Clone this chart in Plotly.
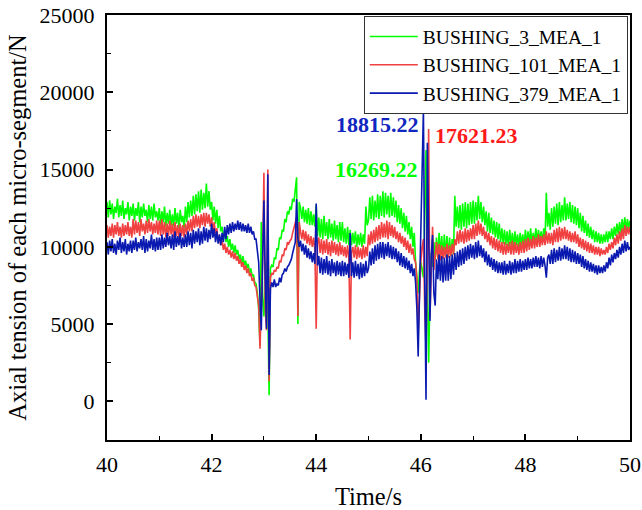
import numpy as np
import plotly.graph_objects as go

# Sampling times (s), 0.025 s step from 40 s to 50 s
TIME = np.round(np.linspace(40.0, 50.0, 401), 3)

# Axial tension (N) of three micro-segments, one row per 0.5 s
BUSHING_3 = [
    12900, 11900, 13000, 12100, 12800, 11800, 12600, 12200, 13100, 11900, 12700, 12000, 13000, 11800, 12500, 12100, 12900, 11700, 12600, 12000,
    12800, 11700, 12500, 12000, 12900, 11600, 12600, 11900, 12800, 12000, 12400, 11600, 12700, 11800, 12600, 11700, 12800, 11900, 12300, 11700,
    12500, 11400, 12300, 11600, 12600, 11300, 12200, 11500, 12400, 11400, 12100, 11300, 12500, 11500, 12200, 11200, 12400, 11600, 12000, 11200,
    12600, 11600, 12900, 11900, 13000, 12000, 13300, 12100, 13400, 12300, 13600, 12200, 13700, 12400, 13500, 12500, 14100, 12600, 13600, 12400,
    12900, 11700, 12600, 11500, 12400, 11200, 12000, 11000, 11300, 10500, 11000, 10300, 10700, 10000, 10500, 9800, 10200, 9600, 10100, 9500,
    9800, 9200, 9500, 8900, 9400, 8800, 9100, 8600, 8900, 8300, 8600, 8100, 8200, 7700, 7600, 7000, 6000, 3600, 11600, 7000,
    5500, 7500, 9000, 6000, 400, 8600, 8800, 8700, 9300, 9200, 9900, 9800, 10600, 10500, 11100, 11000, 11800, 11600, 12300, 12100,
    12600, 12400, 13100, 12900, 13800, 14500, 5000, 12900, 12500, 11800, 12600, 11600, 12400, 11500, 12500, 11400, 12300, 11400, 12100, 11300,
    12700, 10700, 11900, 10600, 11800, 10500, 12000, 10700, 11600, 10500, 11800, 10600, 11500, 10400, 11700, 10500, 11400, 10300, 11600, 10400,
    11600, 10300, 11200, 10200, 11300, 10100, 11100, 10100, 10900, 10200, 11000, 10000, 10800, 10100, 10900, 10000, 10800, 10200, 12600, 11400,
    11700, 13200, 11800, 13300, 11700, 13000, 11900, 13400, 11800, 13300, 12000, 13600, 11900, 13500, 12100, 13300, 11900, 13500, 12000, 13200,
    11900, 13000, 11600, 12700, 11500, 12500, 11200, 12200, 11000, 12000, 10800, 11600, 10500, 11300, 10000, 10900, 9000, 8000, 7000, 8500,
    9000, 8500, 8000, 12000, 16269.22, 8000, 2500, 7000, 9600, 8700, 10300, 9200, 10600, 9300, 10900, 9400, 10700, 9300, 10800, 9400,
    10700, 9300, 10600, 9400, 10500, 9500, 13300, 11300, 12600, 11200, 12700, 11100, 12800, 11300, 12900, 11200, 12800, 11400, 12900, 11500,
    13000, 11500, 12900, 11700, 13300, 11800, 12900, 11600, 12600, 11400, 12300, 11000, 12200, 10900, 11900, 10800, 11700, 10600, 11600, 10500,
    11500, 10300, 11200, 10200, 11100, 10100, 11000, 10000, 11100, 10100, 10900, 10000, 11000, 10100, 10800, 10000, 10900, 10100, 10800, 10000,
    11100, 10100, 11000, 10200, 11200, 10200, 10900, 10300, 11200, 10300, 11100, 10400, 11000, 10300, 11200, 10400, 13500, 11300, 12200, 11100,
    12500, 11300, 12600, 11500, 12800, 11400, 12900, 11600, 12700, 11700, 13200, 11700, 12800, 11800, 12900, 11600, 12700, 11500, 12600, 11400,
    12500, 11200, 12200, 11000, 12000, 10900, 11700, 10700, 11500, 10600, 11300, 10500, 11100, 10300, 11000, 10300, 10900, 10200, 10800, 10200,
    10800, 10300, 11000, 10300, 11000, 10500, 11200, 10500, 11300, 10700, 11500, 10800, 11600, 10900, 11800, 11000, 11900, 11100, 11800, 11200,
    11700,
]

BUSHING_101 = [
    11400, 10600, 11300, 10700, 11500, 10600, 11400, 10800, 11600, 10700, 11300, 10600, 11500, 10700, 11400, 10800, 11600, 10700, 11300, 10600,
    11800, 10800, 11700, 10900, 11600, 10700, 11800, 11000, 11500, 10800, 11700, 10900, 11800, 11000, 11600, 10800, 11500, 10900, 11700, 10800,
    11700, 10700, 11800, 10800, 11600, 10600, 11500, 10700, 11700, 10800, 11500, 10600, 11600, 10700, 11400, 10600, 11500, 10700, 11400, 10600,
    11500, 10800, 11700, 11000, 11800, 11000, 12000, 11200, 12100, 11300, 12000, 11200, 12100, 11400, 12200, 11300, 12200, 11500, 12100, 11300,
    11900, 11000, 11600, 10800, 11200, 10400, 10700, 10100, 10400, 9800, 10200, 9600, 10000, 9500, 9800, 9300, 9700, 9200, 9600, 9100,
    9400, 8900, 9200, 8700, 9000, 8500, 8800, 8300, 8600, 8100, 8300, 7800, 8000, 7500, 7400, 6900, 6200, 3400, 6000, 9000,
    14800, 6000, 4600, 15000, 1300, 8000, 8300, 8200, 8500, 8400, 8700, 8600, 9100, 9000, 9500, 9400, 9900, 9800, 10300, 10200,
    10400, 10500, 10900, 11200, 11500, 11900, 5500, 11600, 11000, 10500, 11100, 10400, 11000, 10200, 10800, 10100, 10700, 10000, 10600, 9800,
    4700, 10300, 10600, 9600, 10500, 9500, 10400, 9600, 10500, 9500, 10300, 9400, 10400, 9600, 10300, 9500, 10200, 9400, 10300, 9500,
    10100, 9400, 10000, 9300, 10100, 9200, 4000, 9600, 10000, 9300, 10100, 9200, 10000, 9300, 9900, 9200, 10100, 9300, 10000, 9400,
    10800, 10100, 11000, 10200, 11100, 10300, 11300, 10400, 11400, 10500, 11600, 10600, 11500, 10600, 11700, 10500, 11600, 10700, 11400, 10600,
    11300, 10500, 11000, 10300, 10900, 10200, 10700, 10000, 10600, 9800, 10400, 9600, 10200, 9500, 9900, 9200, 9000, 8000, 4400, 7000,
    9000, 10000, 10500, 6000, 3500, 9000, 17621.23, 5500, 9000, 11300, 8500, 9400, 10300, 9200, 10200, 9100, 10100, 9200, 10000, 9300,
    10200, 9300, 10100, 9400, 10200, 9500, 10500, 10100, 11000, 10200, 11100, 10300, 11000, 10200, 11200, 10300, 11100, 10400, 11200, 10500,
    11400, 10500, 11500, 10700, 11700, 10800, 11500, 10700, 11300, 10500, 11000, 10300, 10900, 10100, 10700, 9900, 10600, 9800, 10500, 9700,
    10400, 9600, 10300, 9500, 10300, 9500, 10200, 9600, 10300, 9500, 10400, 9500, 10300, 9600, 10200, 9500, 10300, 9600, 10400, 9600,
    10500, 9700, 10600, 9800, 10500, 9900, 10700, 9900, 10600, 10000, 10800, 10000, 10700, 10100, 10800, 10100, 11000, 10200, 10900, 10200,
    10900, 10100, 11100, 10300, 11200, 10300, 11300, 10400, 11200, 10500, 11300, 10500, 11100, 10400, 11000, 10300, 10900, 10300, 11000, 10200,
    10800, 10000, 10600, 9900, 10500, 9800, 10400, 9700, 10300, 9600, 10200, 9600, 10100, 9500, 10000, 9500, 10000, 9400, 9900, 9500,
    9800, 9500, 10000, 9600, 10200, 9800, 10300, 9900, 10600, 10100, 10800, 10200, 11000, 10400, 11200, 10500, 11400, 10700, 11300, 10800,
    11300,
]

BUSHING_379 = [
    10300, 9500, 10400, 9700, 10500, 9600, 10200, 9500, 10400, 9800, 10600, 9600, 10300, 9700, 10500, 9500, 10200, 9700, 10400, 9600,
    10400, 9800, 10600, 9700, 10300, 9900, 10500, 9800, 10700, 9600, 10500, 9700, 10400, 9900, 10800, 9800, 10500, 9700, 10600, 9800,
    10600, 9800, 10800, 9900, 10600, 10000, 10900, 10100, 10700, 9900, 10800, 9800, 11000, 10000, 10700, 10100, 10900, 9900, 10600, 10000,
    10800, 10000, 11000, 10100, 10900, 9900, 11100, 10200, 11000, 10300, 11200, 10100, 11000, 10200, 11300, 10400, 11200, 10300, 11100, 10500,
    11500, 10600, 11200, 10300, 11000, 10200, 10800, 10100, 10900, 10300, 11300, 10500, 11400, 10800, 11500, 10900, 11600, 11000, 11500, 11100,
    11700, 11100, 11600, 11000, 11500, 11000, 11400, 10900, 11500, 10900, 11300, 10800, 11000, 10500, 10500, 9800, 9000, 6600, 4600, 9000,
    13000, 8000, 4700, 14700, 1700, 7300, 7700, 7400, 7900, 7400, 7600, 7500, 8000, 7700, 8200, 8300, 8600, 8400, 8700, 8800,
    9000, 9200, 9600, 9900, 10300, 13100, 10500, 10000, 10400, 9700, 10200, 9500, 10100, 9300, 9900, 9200, 9700, 9000, 9600, 8900,
    12800, 8800, 9400, 8300, 9300, 8200, 9200, 8300, 9400, 8200, 9100, 8100, 9200, 8300, 9000, 8100, 9100, 8200, 9000, 8100,
    9100, 8100, 9000, 8200, 8900, 8000, 10900, 8100, 9000, 8000, 9100, 8100, 8900, 7900, 9000, 8000, 8900, 8100, 9100, 8300,
    8600, 9700, 8800, 9900, 8900, 10100, 9100, 10200, 9200, 10300, 9300, 10300, 9200, 10200, 9400, 10300, 9300, 10100, 9200, 10000,
    9200, 9900, 9000, 9700, 8800, 9600, 8700, 9400, 8600, 9300, 8500, 9100, 8300, 8900, 8100, 8600, 7700, 6000, 2900, 7000,
    11000, 15000, 18815.22, 8000, 100, 16740, 9000, 5200, 9500, 10760, 7000, 6200, 9200, 7900, 9500, 7800, 9400, 7700, 9300, 7800,
    9500, 7800, 9400, 7900, 9500, 8200, 9600, 8500, 9700, 8700, 9800, 8800, 9900, 8900, 10000, 9100, 10100, 9200, 10200, 9300,
    10100, 9200, 10300, 9300, 10400, 9400, 10100, 9300, 9900, 9000, 9700, 8800, 9500, 8700, 9300, 8500, 9200, 8400, 9100, 8300,
    9000, 8300, 9000, 8200, 9100, 8200, 8900, 8300, 9100, 8200, 9000, 8300, 9200, 8300, 9100, 8400, 9200, 8400, 9100, 8500,
    9200, 8500, 9300, 8600, 9200, 8600, 9300, 8700, 9400, 8700, 9300, 8600, 9400, 8700, 9300, 8800, 8000, 9300, 9500, 8900,
    9800, 8900, 9900, 9000, 9800, 9100, 10000, 9100, 9900, 9200, 10100, 9200, 10000, 9100, 9900, 9000, 9800, 9000, 9700, 8900,
    9600, 8900, 9500, 8700, 9400, 8600, 9200, 8500, 9100, 8400, 9000, 8400, 8900, 8300, 8800, 8200, 8800, 8300, 8700, 8300,
    8800, 8400, 9000, 8600, 9300, 8800, 9500, 9000, 9600, 9200, 9800, 9300, 10000, 9500, 10200, 9600, 10400, 9700, 10300, 9800,
    10000,
]

SERIES_NAMES = ["BUSHING_3_MEA_1", "BUSHING_101_MEA_1", "BUSHING_379_MEA_1"]
SERIES_VALUES = [BUSHING_3, BUSHING_101, BUSHING_379]
SERIES_COLORS = ["#00FF00", "#F04040", "#0A1AB0"]
LABEL_COLORS = ["#00FF00", "#FF1A1A", "#1026C0"]

for vals in SERIES_VALUES:
    assert len(vals) == len(TIME)

FONT = "Liberation Serif"

fig = go.Figure()
for name, vals, col in zip(SERIES_NAMES, SERIES_VALUES, SERIES_COLORS):
    fig.add_trace(go.Scatter(
        x=TIME, y=vals, mode="lines", name=name,
        line=dict(color=col, width=1.6),
    ))

# Peak value labels, placed beside each series' maximum
label_pos = [
    (45.99, 15000, "right"),   # BUSHING_3
    (46.23, 17200, "left"),    # BUSHING_101
    (46.01, 17900, "right"),   # BUSHING_379
]
for vals, col, (lx, ly, anchor) in zip(SERIES_VALUES, LABEL_COLORS, label_pos):
    peak = max(vals)
    fig.add_annotation(
        x=lx, y=ly, text=f"<b>{peak:.2f}</b>", showarrow=False,
        xanchor=anchor, yanchor="middle",
        font=dict(family=FONT, size=22, color=col),
    )

axis_common = dict(
    showline=True, linewidth=2, linecolor="black", mirror=True,
    ticks="inside", ticklen=6, tickwidth=1.5, tickcolor="black",
    showgrid=False, zeroline=False, automargin=False,
    tickfont=dict(family=FONT, size=22, color="black"),
)

fig.update_xaxes(
    range=[40, 50], tick0=40, dtick=2,
    minor=dict(ticks="inside", dtick=1, ticklen=4, tickwidth=1.2, tickcolor="black"),
    title=dict(text="Time/s", font=dict(family=FONT, size=24.5, color="black"), standoff=15),
    ticklabelstandoff=4,
    **axis_common,
)
fig.update_yaxes(
    range=[-2500, 25000], tick0=0, dtick=5000, tickformat="d",
    minor=dict(ticks="inside", dtick=2500, ticklen=4, tickwidth=1.2, tickcolor="black"),
    title=dict(text="Axial tension of each micro-segment/N",
               font=dict(family=FONT, size=24.5, color="black"), standoff=6),
    ticklabelstandoff=6,
    **axis_common,
)

fig.update_layout(
    width=642, height=510,
    margin=dict(l=107, r=12, t=15, b=70),
    paper_bgcolor="white", plot_bgcolor="white",
    showlegend=True,
    legend=dict(
        x=0.491, y=0.997, xanchor="left", yanchor="top",
        bgcolor="white", bordercolor="#333333", borderwidth=1,
        font=dict(family=FONT, size=19.5, color="black"),
        tracegroupgap=0, itemwidth=48,
    ),
)

fig.write_html("out.html")
